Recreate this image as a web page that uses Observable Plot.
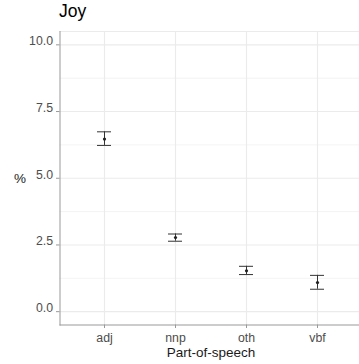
<!DOCTYPE html>
<html>
<head>
<meta charset="utf-8">
<script src="https://cdn.jsdelivr.net/npm/d3@7"></script>
<script src="https://cdn.jsdelivr.net/npm/@observablehq/plot@0.6"></script>
<style>
  html, body { margin: 0; padding: 0; background: #fff; }
  #wrap { position: relative; width: 359px; height: 364px; overflow: hidden; font-family: "Liberation Sans", Arial, sans-serif; }
  #title { position: absolute; left: 59px; top: 3px; font-size: 17.5px; color: #000; line-height: 1; }
  svg { display: block; }
</style>
</head>
<body>
<div id="wrap"><div id="title">Joy</div></div>
<script>
const categories = ["adj", "nnp", "oth", "vbf"];
const means = [6.47, 2.78, 1.53, 1.09];
const lowers = [6.23, 2.64, 1.39, 0.84];
const uppers = [6.74, 2.91, 1.70, 1.36];
const yTicks = [0, 2.5, 5, 7.5, 10];
const yMinor = [1.25, 3.75, 6.25, 8.75];
const title = "Joy";
const xLabel = "Part-of-speech";
const yLabel = "%";

const data = categories.map((c, i) => ({cat: c, mean: means[i], lo: lowers[i], hi: uppers[i]}));
document.getElementById("title").textContent = title;
const fmt = d3.format(".1f");

const chart = Plot.plot({
  width: 359,
  height: 364,
  marginLeft: 59.5,
  marginRight: -2.5,
  marginTop: 31,
  marginBottom: 39.5,
  style: {fontFamily: "Liberation Sans, Arial, sans-serif", background: "#fff", overflow: "visible"},
  x: {type: "band", domain: categories, paddingInner: 0.8, paddingOuter: 0.5},
  y: {domain: [-0.5, 10.5]},
  marks: [
    Plot.ruleY(yMinor, {stroke: "#ebebeb", strokeWidth: 0.6}),
    Plot.ruleY(yTicks, {stroke: "#ebebeb", strokeWidth: 1.1}),
    Plot.gridX({stroke: "#ebebeb", strokeWidth: 1.1, strokeOpacity: 1}),
    Plot.ruleY([10.5], {stroke: "#ebebeb", strokeWidth: 1}),
    Plot.axisY({ticks: yTicks, tickSize: 3.5, text: null, stroke: "#999", label: null}),
    Plot.axisX({tickSize: 3.5, text: null, stroke: "#999", label: null}),
    Plot.text(yTicks, {y: d => d, text: d => fmt(d), frameAnchor: "left", textAnchor: "end", lineAnchor: "bottom", dx: -7, dy: 0.5, fontSize: 12.3, fill: "#4d4d4d"}),
    Plot.text(categories, {x: d => d, text: d => d, frameAnchor: "bottom", lineAnchor: "bottom", dy: 16.5, fontSize: 12.3, fill: "#4d4d4d"}),
    Plot.frame({anchor: "left", stroke: "#999", strokeWidth: 1}),
    Plot.frame({anchor: "bottom", stroke: "#999", strokeWidth: 1}),
    Plot.ruleX(data, {x: "cat", y1: "lo", y2: "hi", stroke: "#333", strokeWidth: 1}),
    Plot.tickY(data, {x: "cat", y: "lo", stroke: "#333", strokeWidth: 1}),
    Plot.tickY(data, {x: "cat", y: "hi", stroke: "#333", strokeWidth: 1}),
    Plot.dot(data, {x: "cat", y: "mean", r: 1.6, fill: "#222", stroke: null}),
    Plot.text([yLabel], {frameAnchor: "left", dx: -46, text: d => d, fontSize: 13.5, fill: "#1a1a1a"}),
    Plot.text([xLabel], {frameAnchor: "bottom", dy: 28, lineAnchor: "middle", text: d => d, fontSize: 13.5, fill: "#1a1a1a"})
  ]
});
document.getElementById("wrap").appendChild(chart);
</script>
</body>
</html>
